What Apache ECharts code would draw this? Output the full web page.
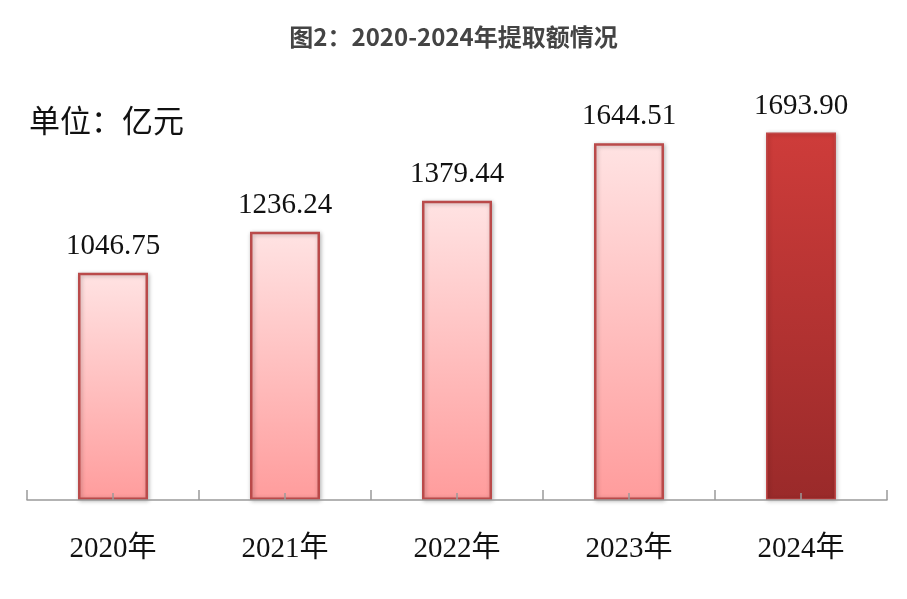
<!DOCTYPE html>
<html>
<head>
<meta charset="utf-8">
<script src="https://cdn.jsdelivr.net/npm/echarts@6/dist/echarts.min.js"></script>
<style>
html,body{margin:0;padding:0;background:#fff;}
#chart{width:907px;height:599px;}
</style>
</head>
<body>
<div id="chart"></div>
<script>
const categories = ['2020年', '2021年', '2022年', '2023年', '2024年'];
const values = [1046.75, 1236.24, 1379.44, 1644.51, 1693.90];
const titleText = '图2：2020-2024年提取额情况';
const unitText = '单位：亿元';

const lightFill = {type:'linear',x:0,y:0,x2:0,y2:1,colorStops:[{offset:0,color:'#FFE3E3'},{offset:1,color:'#FF9C9C'}]};
const darkFill = {type:'linear',x:0,y:0,x2:0,y2:1,colorStops:[{offset:0,color:'#CE3C3A'},{offset:1,color:'#9A2A2A'}]};

const seriesData = values.map((v, i) => {
  const last = i === values.length - 1;
  return {
    value: v,
    itemStyle: last ? {
      color: darkFill, borderColor: '#C04848', borderWidth: 1.5,
      shadowBlur: 4, shadowColor: 'rgba(0,0,0,0.25)', shadowOffsetX: 1, shadowOffsetY: 1
    } : {
      color: lightFill, borderColor: '#BA4A4A', borderWidth: 2.5,
      shadowBlur: 4, shadowColor: 'rgba(0,0,0,0.25)', shadowOffsetX: 1, shadowOffsetY: 1
    }
  };
});

const chart = echarts.init(document.getElementById('chart'));
chart.setOption({
  backgroundColor: '#fff',
  animation: false,
  title: {
    text: titleText,
    left: 'center',
    top: 20,
    textStyle: {fontFamily: '"Noto Sans CJK SC",sans-serif', fontSize: 24, fontWeight: 'bold', color: '#444'}
  },
  graphic: [{
    type: 'text',
    left: 29,
    top: 105,
    style: {text: unitText, fontFamily: '"Noto Sans CJK SC",sans-serif', fontSize: 31, fill: '#111'}
  }],
  grid: {left: 27, right: 20, top: 66, bottom: 99},
  xAxis: [{
    type: 'category',
    data: categories,
    z: 5,
    axisLine: {show: true, lineStyle: {color: '#9a9a9a', width: 1.5}},
    axisTick: {show: true, inside: true, length: 10, lineStyle: {color: '#9a9a9a', width: 1.5}},
    axisLabel: {margin: 35, fontFamily: '"Liberation Serif","Noto Sans CJK SC",serif', fontSize: 29, color: '#111'}
  }, {
    type: 'category',
    data: categories,
    position: 'bottom',
    z: 10,
    axisLine: {show: false},
    axisTick: {show: true, alignWithLabel: true, inside: true, length: 7, lineStyle: {color: '#9a9a9a', width: 1.5}},
    axisLabel: {show: false}
  }],
  yAxis: {
    type: 'value', min: 0, max: 2000,
    show: false, splitLine: {show: false}
  },
  series: [{
    type: 'bar',
    data: seriesData,
    barWidth: 70,
    label: {
      show: true, position: 'top', distance: 12,
      formatter: p => p.value.toFixed(2),
      fontFamily: '"Liberation Serif",serif', fontSize: 29, color: '#111'
    }
  }]
});
</script>
</body>
</html>
